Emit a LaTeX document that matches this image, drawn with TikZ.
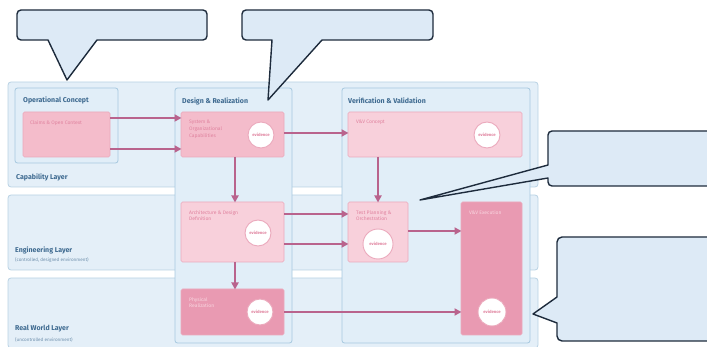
\documentclass[tikz,border=0pt]{standalone}
\usepackage{fontspec}
\setmainfont{Fira Sans}
\usetikzlibrary{arrows.meta}
\definecolor{bandfill}{HTML}{E4EFF8}
\definecolor{bandline}{HTML}{B9D2E4}
\definecolor{colfill}{HTML}{E1EEF8}
\definecolor{colline}{HTML}{A6C8DF}
\definecolor{pinkmid}{HTML}{F4BCCB}
\definecolor{pinklight}{HTML}{F8D0DB}
\definecolor{pinkdark}{HTML}{E99AB2}
\definecolor{pinkline}{HTML}{EBA9BC}
\definecolor{pinktext}{HTML}{E0839F}
\definecolor{pinktextlight}{HTML}{F8D5DF}
\definecolor{arrowc}{HTML}{B9638D}
\definecolor{titlec}{HTML}{3E6A90}
\definecolor{navy}{HTML}{1D2B3C}
\definecolor{callfill}{HTML}{DDEAF6}
\begin{document}
\begin{tikzpicture}[x=1pt,y=-1pt,
  band/.style={draw=bandline, fill=bandfill, rounded corners=3pt, line width=0.8pt, anchor=north west, inner sep=0pt, outer sep=0pt},
  colbox/.style={draw=colline, fill=colfill, rounded corners=2.5pt, line width=0.8pt, anchor=north west, inner sep=0pt, outer sep=0pt},
  pbox/.style={draw=pinkline, rounded corners=1.5pt, line width=0.6pt, anchor=north west, inner sep=0pt, outer sep=0pt},
  ev/.style={circle, draw=pinkline, fill=white, line width=0.9pt, minimum size=#1, inner sep=0pt, font=\bfseries\fontsize{4.2}{4.5}\selectfont, text=pinktext},
  ev/.default=26pt,
  arr/.style={draw=arrowc, line width=1.8pt, -{Triangle[length=7pt,width=7pt]}, shorten >=-0.5pt},
  title/.style={font=\bfseries\fontsize{7}{8}\selectfont, text=titlec, anchor=west, inner sep=0pt},
  subt/.style={font=\fontsize{4.6}{5.5}\selectfont, text=titlec!75, anchor=west, inner sep=0pt},
  btxt/.style={font=\fontsize{5}{6.8}\selectfont, text=pinktext, anchor=north west, inner sep=0pt, align=left},
  btxtl/.style={btxt, text=pinktextlight},
  callout/.style={draw=navy, fill=callfill, line width=1.4pt, line join=round}
]
\path[use as bounding box] (0,0) rectangle (707,347);
\clip (0,0) rectangle (707,347);

% layer bands
\node[band, minimum width=530pt, minimum height=105pt] (cap)  at (8,82) {};
\node[band, minimum width=530pt, minimum height=75pt]  (eng)  at (8,195) {};
\node[band, minimum width=530pt, minimum height=70pt]  (real) at (8,278) {};

% columns
\node[colbox, minimum width=103pt, minimum height=75pt]  (opcol) at (15,88) {};
\node[colbox, minimum width=117pt, minimum height=255pt] (drcol) at (175,88) {};
\node[colbox, minimum width=188pt, minimum height=255pt] (vvcol) at (342,88) {};

% headings
\node[title] (opt) at (23,100) {Operational Concept};
\node[title] (drt) at (182,101) {Design \& Realization};
\node[title] (vvt) at (348,101) {Verification \& Validation};
\node[title] (capt) at (16,177) {Capability Layer};
\node[title] (engt) at (15,250) {Engineering Layer};
\node[subt] (engs) at (15,260.5) {(controlled, designed environment)};
\node[title] (realt) at (15,329) {Real World Layer};
\node[subt] (reals) at (15,339.5) {(uncontrolled environment)};

% activity boxes
\node[pbox, fill=pinkmid,   minimum width=87pt,  minimum height=45pt]  (claims) at (23,112) {};
\node[pbox, fill=pinkmid,   minimum width=103pt, minimum height=45pt]  (sys)    at (181,112) {};
\node[pbox, fill=pinklight, minimum width=174pt, minimum height=45pt]  (vvc)    at (348,112) {};
\node[pbox, fill=pinklight, minimum width=103pt, minimum height=60pt]  (arch)   at (181,202) {};
\node[pbox, fill=pinklight, minimum width=60pt,  minimum height=60pt]  (test)   at (348,202) {};
\node[pbox, fill=pinkdark,  minimum width=103pt, minimum height=46pt]  (phys)   at (181,289) {};
\node[pbox, fill=pinkdark,  minimum width=61pt,  minimum height=133pt] (exec)   at (461,202) {};

% box captions
\node[btxt]  (claimst) at (30,120) {Claims \& Open Context};
\node[btxt]  (syst)    at (189,120) {System \&\\Organizational\\Capabilities};
\node[btxt]  (vvct)    at (356,120) {V\&V Concept};
\node[btxt]  (archt)   at (189,210) {Architecture \& Design\\Definition};
\node[btxt]  (testt)   at (356,210) {Test Planning \&\\Orchestration};
\node[btxtl] (physt)   at (189,297) {Physical\\Realization};
\node[btxtl] (exect)   at (469,210) {V\&V Execution};

% evidence markers
\node[ev] (ev1) at (261,135) {evidence};
\node[ev] (ev2) at (487,135) {evidence};
\node[ev] (ev3) at (258,233) {evidence};
\node[ev=30pt] (ev4) at (378,244) {evidence};
\node[ev] (ev5) at (260,312) {evidence};
\node[ev=28pt] (ev6) at (492,312) {evidence};

% flows
\draw[arr] (claims.east |- 0,118) -- (sys.west |- 0,118);
\draw[arr] (claims.east |- 0,149) -- (sys.west |- 0,149);
\draw[arr] (sys.east |- 0,133) -- (vvc.west |- 0,133);
\draw[arr] (sys.south -| 235,0) -- (arch.north -| 235,0);
\draw[arr] (vvc.south -| 378,0) -- (test.north -| 378,0);
\draw[arr] (arch.east |- 0,214) -- (test.west |- 0,214);
\draw[arr] (arch.east |- 0,244) -- (test.west |- 0,244);
\draw[arr] (test.east |- 0,231) -- (exec.west |- 0,231);
\draw[arr] (arch.south -| 235,0) -- (phys.north -| 235,0);
\draw[arr] (phys.east |- 0,312) -- (exec.west |- 0,312);

% speech bubbles
\draw[callout] (48,40) -- (67,80) -- (97,40) [rounded corners=4pt] -- (207,40) -- (207,10) -- (17,10) -- (17,40) [sharp corners] -- cycle;
\draw[callout] (272,40) -- (268,100) -- (322,40) [rounded corners=4pt] -- (433,40) -- (433,10) -- (242,10) -- (242,40) [sharp corners] -- cycle;
\draw[callout] (548,165) -- (420,200) -- (548,178) [rounded corners=4pt] -- (548,186) -- (716,186) -- (716,131) -- (548,131) [sharp corners] -- cycle;
\draw[callout] (557,297) -- (533,314) -- (557,323) [rounded corners=5pt] -- (557,341) -- (716,341) -- (716,237) -- (557,237) [sharp corners] -- cycle;
\end{tikzpicture}
\end{document}
